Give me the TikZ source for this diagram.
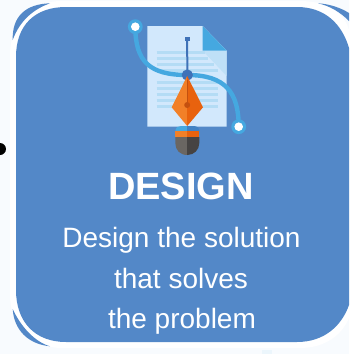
\documentclass[tikz,border=0pt]{standalone}
\usepackage{fontspec}
\setmainfont{Liberation Sans}
\definecolor{mainblue}{HTML}{5388C8}
\definecolor{bgtint}{HTML}{F8FBFE}
\definecolor{sheet}{HTML}{D2E8FC}
\definecolor{sheetline}{HTML}{B4DCF5}
\definecolor{foldshade}{HTML}{BFE0F7}
\definecolor{curveblue}{HTML}{45A8E0}
\definecolor{penblue}{HTML}{3F72B8}
\definecolor{nibl}{HTML}{F28028}
\definecolor{nibr}{HTML}{E8620E}
\definecolor{nibd}{HTML}{C4500F}
\definecolor{grayl}{HTML}{6A6662}
\definecolor{grayr}{HTML}{464342}
\tikzset{
  title/.style={text=white,font=\bfseries\fontsize{38}{38}\selectfont,anchor=base,inner sep=0pt},
  body/.style={text=white,font=\fontsize{28}{28}\selectfont,anchor=base,inner sep=0pt},
  sline/.style={sheetline,line width=2.7pt},
}
\begin{document}
\begin{tikzpicture}[x=1pt,y=-1pt]
\useasboundingbox (0,0) rectangle (349,354);
\fill[bgtint] (0,0) rectangle (349,354);
\fill[sheetline!25!white] (262,350) rectangle (272,354);
% white ring
\fill[white] (10,56) .. controls (10,22) and (30,1) .. (62,1) -- (300,1) .. controls (330,1) and (345,15) .. (349,30) -- (349,318) .. controls (342,335) and (325,348) .. (300,348) -- (62,348) .. controls (30,348) and (10,325) .. (10,295) -- cycle;
% crescents
\fill[mainblue] (12.7,40) .. controls (12,16) and (26,4) .. (50,3.3) .. controls (34,9) and (20,20) .. cycle;
\fill[mainblue] (318,3.3) .. controls (330,4) and (341,8) .. (349,13) -- (349,21) .. controls (340,12) and (330,6) .. cycle;
\fill[mainblue] (12.7,309) .. controls (14,330) and (28,344) .. (50,346.3) .. controls (35,342) and (21,327) .. cycle;
% panel
\fill[mainblue] (16,57) .. controls (16,25) and (35,7) .. (66,7) -- (297,7) .. controls (325,7) and (342,24) .. (349,48) -- (349,305) .. controls (342,325) and (325,342) .. (297,342) -- (66,342) .. controls (35,342) and (16,322) .. (16,290) -- cycle;
% black dot
\fill[black] (0,149) circle (6);
% sheet
\fill[sheet] (147.3,26) -- (202.7,26) -- (226.7,50.7) -- (226.7,126.7) -- (147.3,126.7) -- cycle;
\fill[foldshade] (202.7,50.7) -- (226.7,50.7) -- (226.7,76) -- cycle;
\fill[curveblue] (202.7,26) -- (226.7,50.7) -- (202.7,50.7) -- cycle;
\foreach \yy/\xe in {52.5/205,58.5/208,64.5/214,70.5/218,82.5/218,88.5/218,94.5/218,100.5/218,106.5/218}
  \draw[sline] (156.7,\yy) -- (\xe,\yy);
% curve
\coordinate (startpt) at (135.3,26.7);
\coordinate (midpt) at (187.3,75);
\coordinate (endpt) at (238.7,126.7);
\draw[curveblue,line width=4.4pt] (startpt) .. controls (135.3,62) and (150,75) .. (midpt) .. controls (225,75) and (238.7,92) .. (endpt);
\fill[curveblue] (startpt) circle (7.4);
\fill[white] (startpt) circle (4.3);
\fill[curveblue] (endpt) circle (7.4);
\fill[white] (endpt) circle (4.3);
% pen stem
\draw[penblue,line width=2pt] (187.2,39) -- (midpt);
\fill[penblue] (185,36.5) rectangle (189.5,41);
\fill[penblue] (midpt) circle (5.6);
% nib
\fill[nibl] (187.2,76) -- (171.7,107.3) -- (187.2,126) -- cycle;
\fill[nibr] (187.2,76) -- (203,107.3) -- (187.2,126) -- cycle;
\draw[nibd,line width=1.4pt] (187.2,80) -- (187.2,105);
\fill[nibd] (187.2,105) circle (3);
% cap
\fill[curveblue] (175.3,132) .. controls (175.3,127.5) and (178,126) .. (181,126) -- (187.2,126) -- (187.2,132) -- cycle;
\fill[penblue!70!curveblue] (187.2,126) -- (193,126) .. controls (197,126) and (199.3,127.5) .. (199.3,132) -- (187.2,132) -- cycle;
\fill[nibl] (175.3,131) rectangle (187.2,137);
\fill[nibr] (187.2,131) rectangle (199.3,137);
\fill[grayl] (175.3,137) -- (187.2,137) -- (187.2,155) .. controls (180,155) and (175.3,150) .. (175.3,143) -- cycle;
\fill[grayr] (187.2,137) -- (199.3,137) -- (199.3,143) .. controls (199.3,150) and (194,155) .. (187.2,155) -- cycle;
% text
\node[title] (head) at (181,199) {DESIGN};
\node[body] (lineone) at (181.5,247) {Design the solution};
\node[body] (linetwo) at (181,288) {that solves};
\node[body] (linethree) at (182,328) {the problem};
\end{tikzpicture}
\end{document}
